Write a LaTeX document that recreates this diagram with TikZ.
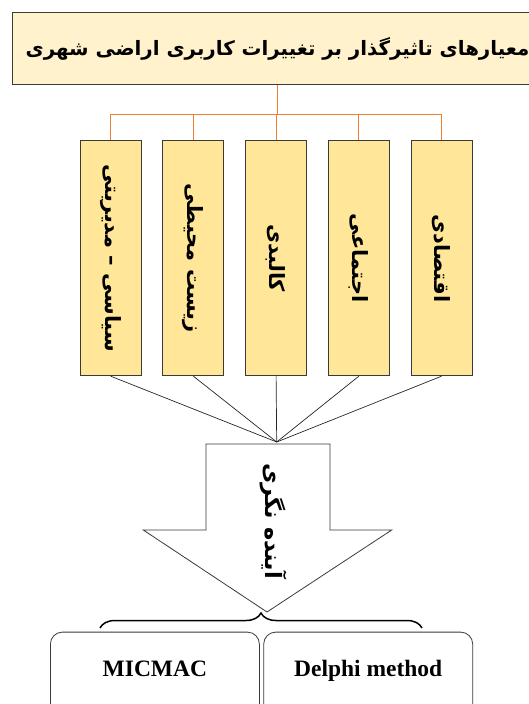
\documentclass[tikz,border=0pt]{standalone}
\usepackage{fontspec}
\setmainfont{Liberation Serif}
\newfontfamily\farsifont[Script=Arabic]{DejaVu Sans}
\TeXXeTstate=1
\usetikzlibrary{decorations.pathreplacing}

\definecolor{titlefill}{HTML}{FFF2CC}
\definecolor{boxfill}{HTML}{FFE699}
\definecolor{treeorange}{HTML}{ED7D31}
\definecolor{edgegray}{HTML}{3A3A3A}

\newcommand{\vlabel}[1]{\rotatebox{-90}{\farsifont\bfseries\fontsize{21}{24}\selectfont\beginR #1\endR}}

\tikzset{
	titlebox/.style={draw=edgegray,fill=titlefill,line width=1pt,minimum width=530pt,minimum height=72pt,inner sep=0pt,anchor=north west},
	factorbox/.style={draw=edgegray,fill=boxfill,line width=1pt,minimum width=61pt,minimum height=235pt,inner sep=0pt},
	methodbox/.style={draw=edgegray,rounded corners=12pt,line width=0.8pt,minimum width=209pt,inner sep=0pt,text height=44pt,text depth=55pt,anchor=north west,font=\bfseries\fontsize{23.5}{26}\selectfont},
	tree/.style={draw=treeorange,line width=1pt},
	feed/.style={draw=black!85,line width=0.7pt}
}

\begin{document}
\begin{tikzpicture}[x=1pt,y=-1pt]
	\useasboundingbox (0,0) rectangle (529,704);
	\clip (0,0) rectangle (529,704);

	%title bar
	\node[titlebox] (title) at (12,12) {\farsifont\bfseries\fontsize{19.8}{24}\selectfont\beginR معیارهای تاثیرگذار بر تغییرات کاربری اراضی شهری\endR};

	%five criteria
	\node[factorbox] (politic)  at (110.7,258.2) {\vlabel{سیاسی – مدیریتی}};
	\node[factorbox] (environ)  at (193.4,258.2) {\vlabel{زیست محیطی}};
	\node[factorbox] (physical) at (276.1,258.2) {\vlabel{کالبدی}};
	\node[factorbox] (social)   at (358.8,258.2) {\vlabel{اجتماعی}};
	\node[factorbox] (economic) at (441.5,258.2) {\vlabel{اقتصادی}};

	%orange tree from the title
	\foreach \crit in {politic,environ,physical,social,economic}
		\draw[tree] (title.south) -- ++(0,29) -| (\crit.north);

	%lines into the arrow
	\coordinate (hub) at (276.7,442);
	\foreach \crit in {politic,environ,physical,social,economic}
		\draw[feed] (\crit.south) -- (hub);

	%big arrow
	\draw[edgegray,fill=white,line width=0.8pt] (206,444) -- (330,444) -- (330,530) -- (391.7,530)
		-- (267,612) -- (143.3,530) -- (206,530) -- cycle;
	\node (foresight) at (273,521) {\rotatebox{-90}{\farsifont\bfseries\fontsize{22.5}{26}\selectfont\beginR آینده نگری\endR}};

	%brace over the methods
	\draw[black,line width=1.5pt,decorate,decoration={brace,amplitude=15pt}] (100,628) -- (422,628);

	%methods
	\node[methodbox] (micmac) at (50,631.7)  {MICMAC};
	\node[methodbox] (delphi) at (263.3,631.7) {Delphi method};
\end{tikzpicture}
\end{document}
